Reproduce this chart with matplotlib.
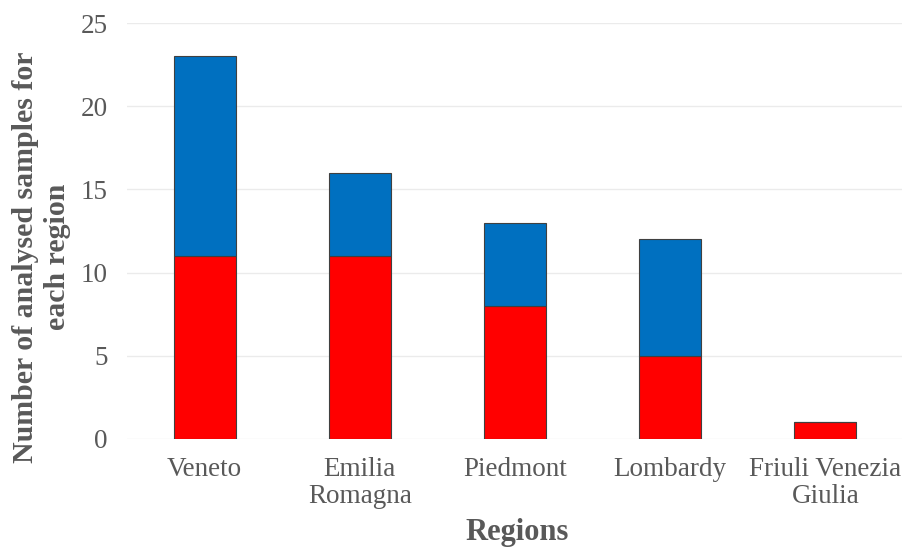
import numpy as np
import matplotlib.pyplot as plt

regions = ['Veneto', 'Emilia\nRomagna', 'Piedmont', 'Lombardy', 'Friuli Venezia\nGiulia']
red_counts = [11, 11, 8, 5, 1]
blue_counts = [12, 5, 5, 7, 0]

plt.rcParams['font.family'] = ['Liberation Serif', 'DejaVu Serif']
grey = '#595959'

fig = plt.figure(figsize=(9.03, 5.49), dpi=100)
ax = fig.add_axes([0.1406, 0.2004, 0.8594, 0.7577])

x = np.arange(len(regions))
ax.bar(x, red_counts, width=0.4, color='#FF0000', edgecolor='#404040', linewidth=0.8, zorder=3)
ax.bar(x, blue_counts, width=0.4, bottom=red_counts, color='#0070C0',
       edgecolor='#404040', linewidth=0.8, zorder=3)

ax.set_xlim(-0.5, len(regions) - 0.5)
ax.set_ylim(0, 25)
ax.set_yticks(np.arange(0, 26, 5))
ax.set_xticks(x)
ax.set_xticklabels(regions, linespacing=1.1)
ax.grid(axis='y', color='#EBEBEB', linewidth=1, zorder=0)
for s in ax.spines.values():
    s.set_visible(False)
ax.tick_params(axis='both', length=0, labelsize=19.5, labelcolor=grey)
ax.tick_params(axis='x', pad=13)
ax.tick_params(axis='y', pad=14)

ax.set_xlabel('Regions', fontsize=22, fontweight='bold', color=grey)
ax.xaxis.set_label_coords(0.503, -0.19)
ax.set_ylabel('Number of analysed samples for\neach region', fontsize=21.5,
              fontweight='bold', color=grey, linespacing=1.25)
ax.yaxis.set_label_coords(-0.072, 0.4375)

fig.savefig('out.png', dpi=100)
